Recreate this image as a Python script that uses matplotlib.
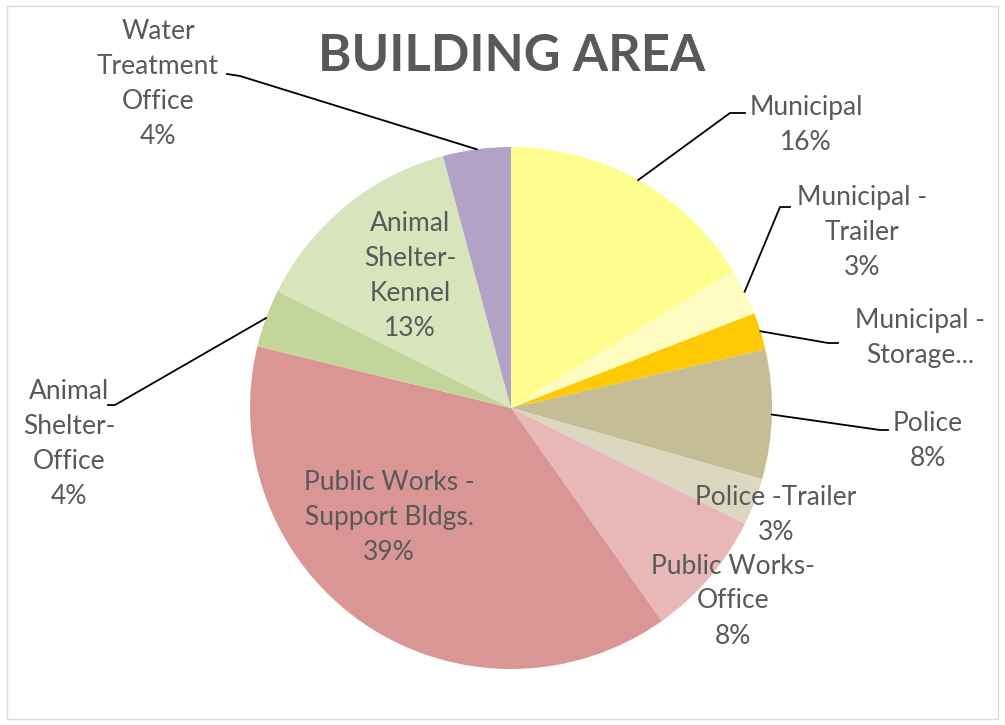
import numpy as np
import matplotlib
matplotlib.use("Agg")
import matplotlib.pyplot as plt
import matplotlib.patches as mpatches

# ── data ─────────────────────────────────────────────────────────────────────
categories = [
    "Municipal", "Municipal -\nTrailer", "Municipal -\nStorage...", "Police",
    "Police -Trailer", "Public Works-\nOffice", "Public Works -\nSupport Bldgs.",
    "Animal\nShelter-\nOffice", "Animal\nShelter-\nKennel", "Water\nTreatment\nOffice",
]
shares = [16.2, 2.9, 2.3, 8.0, 2.9, 7.9, 38.6, 3.6, 13.4, 4.2]
show_pct = [True, True, False, True, True, True, True, True, True, True]
colors = ["#FFFD8E", "#FFFCC2", "#FFC905", "#C5BD96", "#DCD8BF",
          "#E8B8B9", "#D99695", "#C3D69A", "#D8E4BC", "#B2A2C6"]

TXT = "#595959"
FONT = ["Lato", "DejaVu Sans"]

W, H = 1005, 725
fig = plt.figure(figsize=(W / 100, H / 100), dpi=100)
ax = fig.add_axes([0, 0, 1, 1])

cx, cy, R = 511, H - 408, 261
wedges, _ = ax.pie(shares, colors=colors, startangle=90, counterclock=False,
                   center=(cx, cy), radius=R,
                   wedgeprops=dict(linewidth=0))
ax.set_xlim(0, W)
ax.set_ylim(0, H)
ax.set_aspect("equal")
ax.axis("off")

# frame around the chart area
ax.add_patch(mpatches.Rectangle((7, 6), W - 14, H - 12, fill=False,
                                edgecolor="#d9d9d9", linewidth=1))

ax.text(512, H - 56, "BUILDING AREA", ha="center", va="center",
        fontsize=36.5, fontweight="bold", color=TXT, family=FONT)

# label centres (pixel coords, y from top) and leader anchor/elbow
label_pos = [(806, 125), (862, 232), (920, 338), (928, 441), (776, 515),
             (733, 601), (389, 517), (69, 444), (410, 276), (158, 84)]
leaders = {0: [(745, 113), (730, 113)],
           1: [(790, 207), (780, 207)],
           2: [(838, 343), (828, 343)],
           3: [(888, 430), (880, 430)],
           7: [(108, 405), (115, 405)],
           9: [(227, 74), (240, 76)]}


def edge_point(w):
    a = np.radians((w.theta1 + w.theta2) / 2)
    return cx + R * np.cos(a), cy + R * np.sin(a)


for i, (name, v) in enumerate(zip(categories, shares)):
    txt = name + (f"\n{round(v)}%" if show_pct[i] else "")
    lx, ly = label_pos[i]
    ax.text(lx, H - ly, txt, ha="center", va="center", fontsize=19,
            color=TXT, family=FONT, linespacing=1.5)
    if i in leaders:
        ex, ey = edge_point(wedges[i])
        pts = [(x, H - y) for x, y in leaders[i]] + [(ex, ey)]
        xs, ys = zip(*pts)
        ax.plot(xs, ys, color="black", linewidth=1.3)

plt.savefig("out.png", dpi=100)
